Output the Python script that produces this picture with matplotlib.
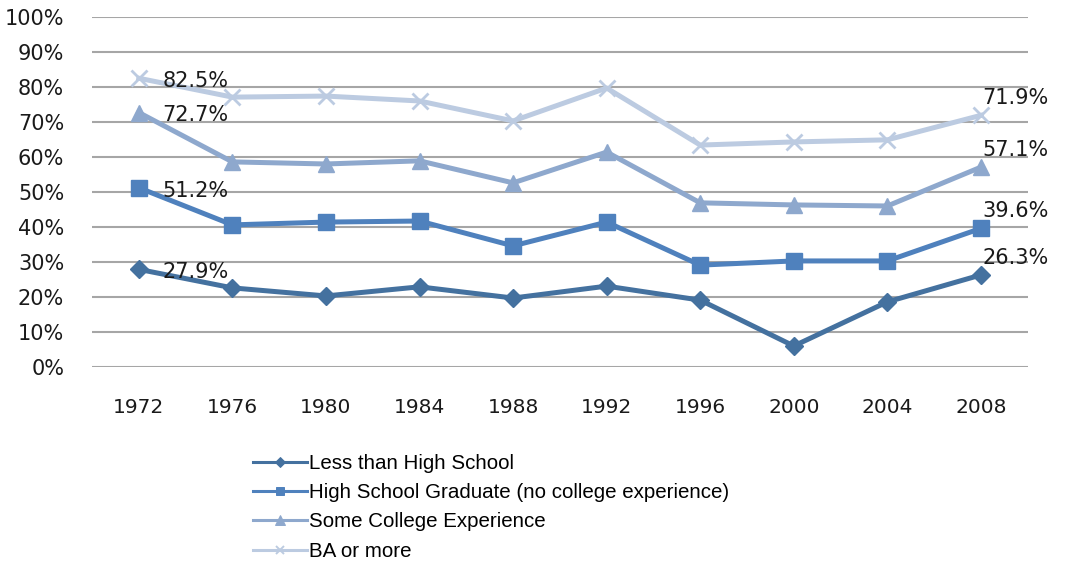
import numpy as np
import matplotlib.pyplot as plt
from matplotlib.lines import Line2D

years = ["1972", "1976", "1980", "1984", "1988", "1992", "1996", "2000", "2004", "2008"]

less_than_hs = [27.9, 22.6, 20.3, 22.9, 19.7, 23.1, 19.1, 6.0, 18.6, 26.3]
hs_graduate = [51.2, 40.6, 41.4, 41.7, 34.6, 41.4, 29.1, 30.3, 30.3, 39.6]
some_college = [72.7, 58.6, 58.0, 58.9, 52.6, 61.4, 46.9, 46.3, 46.0, 57.1]
ba_or_more = [82.5, 77.1, 77.4, 76.0, 70.3, 79.7, 63.4, 64.3, 64.9, 71.9]

series = [
    ("Less than High School", less_than_hs, "#44719f", "D", 9),
    ("High School Graduate (no college experience)", hs_graduate, "#4f81bd", "s", 11),
    ("Some College Experience", some_college, "#8ea8cd", "^", 12),
    ("BA or more", ba_or_more, "#bccbe1", "x", 11),
]

fig = plt.figure(figsize=(10.65, 5.62), dpi=100)
ax = fig.add_axes([0.0864, 0.347, 0.8786, 0.6228])

x = np.arange(len(years))
handles = []
for name, vals, color, marker, ms in series:
    mew = 2 if marker == "x" else 1
    ax.plot(x, vals, color=color, linewidth=3.6, marker=marker,
            markersize=ms, markeredgewidth=mew, zorder=3)
    # thinner line and smaller marker for the legend entry
    handles.append(Line2D([], [], color=color, linewidth=2.2, marker=marker,
                          markersize=ms * 0.55, markeredgewidth=mew * 0.7,
                          label=name))
    # first and last values labelled
    ax.annotate(f"{vals[0]:.1f}%", (x[0], vals[0]), xytext=(17, -2),
                textcoords="offset points", ha="left", va="center",
                fontsize=15, color="#1a1a1a", zorder=4)
    ax.annotate(f"{vals[-1]:.1f}%", (x[-1], vals[-1]), xytext=(1, 5),
                textcoords="offset points", ha="left", va="bottom",
                fontsize=15, color="#1a1a1a", zorder=4)

ax.set_xlim(-0.5, len(years) - 0.5)
ax.set_ylim(0, 100)
ax.set_yticks(np.arange(0, 101, 10))
ax.set_yticklabels([f"{v}%" for v in range(0, 101, 10)])
ax.set_xticks(x)
ax.set_xticklabels(years)
ax.tick_params(axis="both", length=0, labelsize=15, colors="#1a1a1a")
ax.tick_params(axis="x", labelsize=14.5, pad=22)
ax.tick_params(axis="y", pad=20)
ax.grid(axis="y", color="#a6a6a6", linewidth=1.5)
ax.set_axisbelow(True)
for sp in ax.spines.values():
    sp.set_visible(False)

fig.legend(handles=handles, loc="upper left", bbox_to_anchor=(0.23, 0.207),
           frameon=False, handlelength=2.6, handletextpad=0.1,
           labelspacing=0.5, borderaxespad=0,
           prop={"family": "Liberation Sans", "size": 14.8})

fig.savefig("out.png", dpi=100)
